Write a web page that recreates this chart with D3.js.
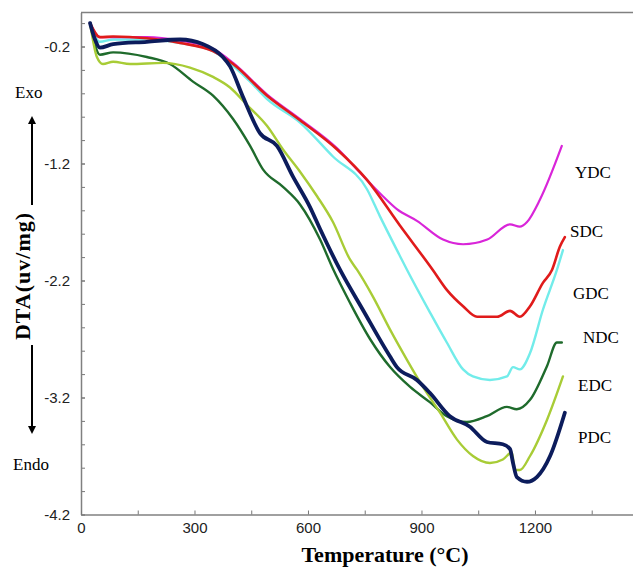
<!DOCTYPE html>
<html>
<head>
<meta charset="utf-8">
<script src="https://cdn.jsdelivr.net/npm/d3@7"></script>
<style>
  body { margin: 0; background: #fff; }
  svg { display: block; }
</style>
</head>
<body>
<div id="chart"></div>
<script>
// DTA curves: [temperature (C), DTA (uv/mg)]
var ydc = [[24,0.0],[50,-0.12],[174,-0.12],[262,-0.15],[349,-0.22],[402,-0.34],[492,-0.61],[579,-0.82],
  [677,-1.07],[738,-1.28],[798,-1.48],[835,-1.59],[888,-1.69],[957,-1.85],[1010,-1.89],[1074,-1.85],
  [1134,-1.72],[1160,-1.74],[1179,-1.70],[1213,-1.51],[1271,-1.05]];
var sdc = [[24,0.0],[50,-0.12],[85,-0.115],[174,-0.13],[262,-0.17],[349,-0.24],[402,-0.35],[492,-0.62],
  [579,-0.83],[677,-1.08],[756,-1.34],[843,-1.73],[930,-2.11],[967,-2.28],[1010,-2.42],[1047,-2.51],
  [1100,-2.51],[1134,-2.46],[1160,-2.51],[1187,-2.42],[1221,-2.22],[1245,-2.11],[1266,-1.91],[1279,-1.83]];
var gdc = [[24,0.0],[50,-0.16],[85,-0.14],[174,-0.14],[262,-0.17],[349,-0.24],[447,-0.50],[492,-0.65],
  [579,-0.85],[666,-1.14],[756,-1.42],[790,-1.65],[843,-1.99],[862,-2.11],[922,-2.47],[967,-2.73],
  [1010,-2.96],[1036,-3.02],[1081,-3.05],[1126,-3.02],[1142,-2.94],[1160,-2.96],[1187,-2.82],
  [1221,-2.45],[1258,-2.11],[1274,-1.94]];
var ndc = [[24,0.0],[50,-0.27],[85,-0.25],[174,-0.29],[235,-0.35],[296,-0.50],[349,-0.62],[402,-0.82],
  [447,-1.05],[481,-1.25],[534,-1.40],[579,-1.55],[632,-1.85],[666,-2.10],[711,-2.39],[764,-2.70],
  [817,-2.94],[870,-3.11],[922,-3.24],[967,-3.36],[1020,-3.41],[1073,-3.36],[1126,-3.28],[1152,-3.30],
  [1187,-3.22],[1232,-2.93],[1258,-2.73],[1271,-2.73]];
var edc = [[24,0.0],[42,-0.29],[58,-0.35],[85,-0.33],[130,-0.35],[217,-0.34],[288,-0.38],[349,-0.46],
  [394,-0.55],[439,-0.70],[492,-0.88],[534,-1.08],[579,-1.27],[624,-1.48],[666,-1.70],[711,-2.02],
  [730,-2.11],[772,-2.34],[817,-2.62],[862,-2.88],[904,-3.11],[949,-3.33],[994,-3.56],[1036,-3.70],
  [1081,-3.76],[1115,-3.73],[1139,-3.67],[1147,-3.82],[1160,-3.82],[1187,-3.70],[1232,-3.39],[1274,-3.02]];
var pdc = [[24,0.0],[37,-0.14],[50,-0.21],[85,-0.18],[174,-0.16],[262,-0.14],[323,-0.18],[375,-0.29],
  [394,-0.37],[428,-0.63],[473,-0.94],[518,-1.05],[560,-1.31],[605,-1.57],[632,-1.76],[685,-2.11],
  [745,-2.45],[817,-2.85],[835,-2.94],[888,-3.05],[922,-3.16],[975,-3.36],[1028,-3.45],[1073,-3.58],
  [1115,-3.60],[1134,-3.64],[1142,-3.76],[1152,-3.88],[1179,-3.92],[1205,-3.88],[1240,-3.70],[1279,-3.33]];

var seriesNames = ["YDC", "SDC", "GDC", "NDC", "EDC", "PDC"];
var seriesData = [ydc, sdc, gdc, ndc, edc, pdc];
var yTickLabels = [-0.2, -1.2, -2.2, -3.2, -4.2];
var xTickLabels = [0, 300, 600, 900, 1200];

// styling / layout
var colors = ["#d925d9", "#e01b1b", "#72ecea", "#1f6b2c", "#a8cc36", "#0c1c5c"];
var widths = [2.2, 2.6, 2.4, 2.4, 2.4, 3.8];
var labelXY = [[575, 178], [570, 237], [573, 299], [583, 343], [578, 391], [578, 443]];

var width = 633, height = 567;

var x = d3.scaleLinear().domain([0, 1500]).range([81, 81 + 1500 * 0.3783]);
var y = d3.scaleLinear().domain([-4.2, 0.09]).range([514.5, 514.5 - 4.29 * 117]);

var svg = d3.select("#chart").append("svg").attr("width", width).attr("height", height);

// frame (top + left + bottom, right side is cut off)
svg.append("line").attr("x1", x(0)).attr("x2", width).attr("y1", y(0.09)).attr("y2", y(0.09))
  .attr("stroke", "#808080").attr("stroke-width", 1.5);

// minor y ticks every 0.2
var yMinor = d3.range(0, 22).map(function(i) { return -4.2 + i * 0.2; });
svg.append("g").attr("transform", "translate(" + x(0) + ",0)")
  .call(d3.axisLeft(y).tickValues(yMinor).tickSizeInner(-4).tickSizeOuter(0).tickFormat(""))
  .call(function(g) { g.select(".domain").remove(); })
  .selectAll("line").attr("stroke", "#777");

var yAxis = svg.append("g").attr("transform", "translate(" + x(0) + ",0)")
  .call(d3.axisLeft(y).tickValues(yTickLabels).tickSizeInner(-4).tickSizeOuter(0).tickPadding(11)
    .tickFormat(function(d) { return d.toFixed(1); }));
yAxis.select(".domain").attr("stroke", "#808080").attr("stroke-width", 1.5);
yAxis.selectAll("line").attr("stroke", "#777");
yAxis.selectAll("text").style("font-family", "Liberation Sans, Arial, sans-serif")
  .style("font-size", "15px").attr("fill", "#222").attr("dy", "0.36em");

// x axis
var xMinor = d3.range(0, 11).map(function(i) { return i * 150; });
var xAxis = svg.append("g").attr("transform", "translate(0," + y(-4.2) + ")")
  .call(d3.axisBottom(x).tickValues(xMinor).tickSizeInner(-4).tickSizeOuter(0).tickPadding(8)
    .tickFormat(function(d) { return xTickLabels.indexOf(d) >= 0 ? d : ""; }));
xAxis.select(".domain").attr("stroke", "#808080").attr("stroke-width", 1.5);
xAxis.selectAll("line").attr("stroke", "#777");
xAxis.selectAll("text").style("font-family", "Liberation Sans, Arial, sans-serif")
  .style("font-size", "15px").attr("fill", "#222");

// curves
var line = d3.line().x(function(d) { return x(d[0]); }).y(function(d) { return y(d[1]); })
  .curve(d3.curveMonotoneX);

// draw in an order close to the original stacking
var order = [2, 0, 1, 3, 4, 5];
order.forEach(function(i) {
  svg.append("path").datum(seriesData[i]).attr("d", line).attr("fill", "none")
    .attr("stroke", colors[i]).attr("stroke-width", widths[i])
    .attr("stroke-linejoin", "round").attr("stroke-linecap", "round");
});

// series labels
svg.selectAll(".slabel").data(seriesNames).enter().append("text").attr("class", "slabel")
  .attr("x", function(d, i) { return labelXY[i][0]; })
  .attr("y", function(d, i) { return labelXY[i][1]; })
  .style("font-family", "Liberation Serif, Times New Roman, serif").style("font-size", "17px")
  .text(function(d) { return d; });

// axis titles
svg.append("text").attr("transform", "translate(30,276) rotate(-90)").attr("text-anchor", "middle")
  .style("font-family", "Liberation Serif, Times New Roman, serif").style("font-size", "22px")
  .style("font-weight", "bold").style("letter-spacing", "1px").text("DTA(uv/mg)");
svg.append("text").attr("x", 385).attr("y", 562).attr("text-anchor", "middle")
  .style("font-family", "Liberation Serif, Times New Roman, serif").style("font-size", "22px")
  .style("font-weight", "bold").text("Temperature (\u00B0C)");

// exo / endo markers
var defs = svg.append("defs");
defs.append("marker").attr("id", "head").attr("viewBox", "0 0 10 10").attr("refX", 5).attr("refY", 5)
  .attr("markerWidth", 4).attr("markerHeight", 4).attr("orient", "auto")
  .append("path").attr("d", "M0,0 L10,5 L0,10 z").attr("fill", "#000");
svg.append("line").attr("x1", 32).attr("x2", 32).attr("y1", 205).attr("y2", 120)
  .attr("stroke", "#000").attr("stroke-width", 2).attr("marker-end", "url(#head)");
svg.append("line").attr("x1", 32).attr("x2", 32).attr("y1", 345).attr("y2", 430)
  .attr("stroke", "#000").attr("stroke-width", 2).attr("marker-end", "url(#head)");
svg.append("text").attr("x", 15).attr("y", 98)
  .style("font-family", "Liberation Serif, Times New Roman, serif").style("font-size", "17px").text("Exo");
svg.append("text").attr("x", 13).attr("y", 470)
  .style("font-family", "Liberation Serif, Times New Roman, serif").style("font-size", "17px").text("Endo");
</script>
</body>
</html>
